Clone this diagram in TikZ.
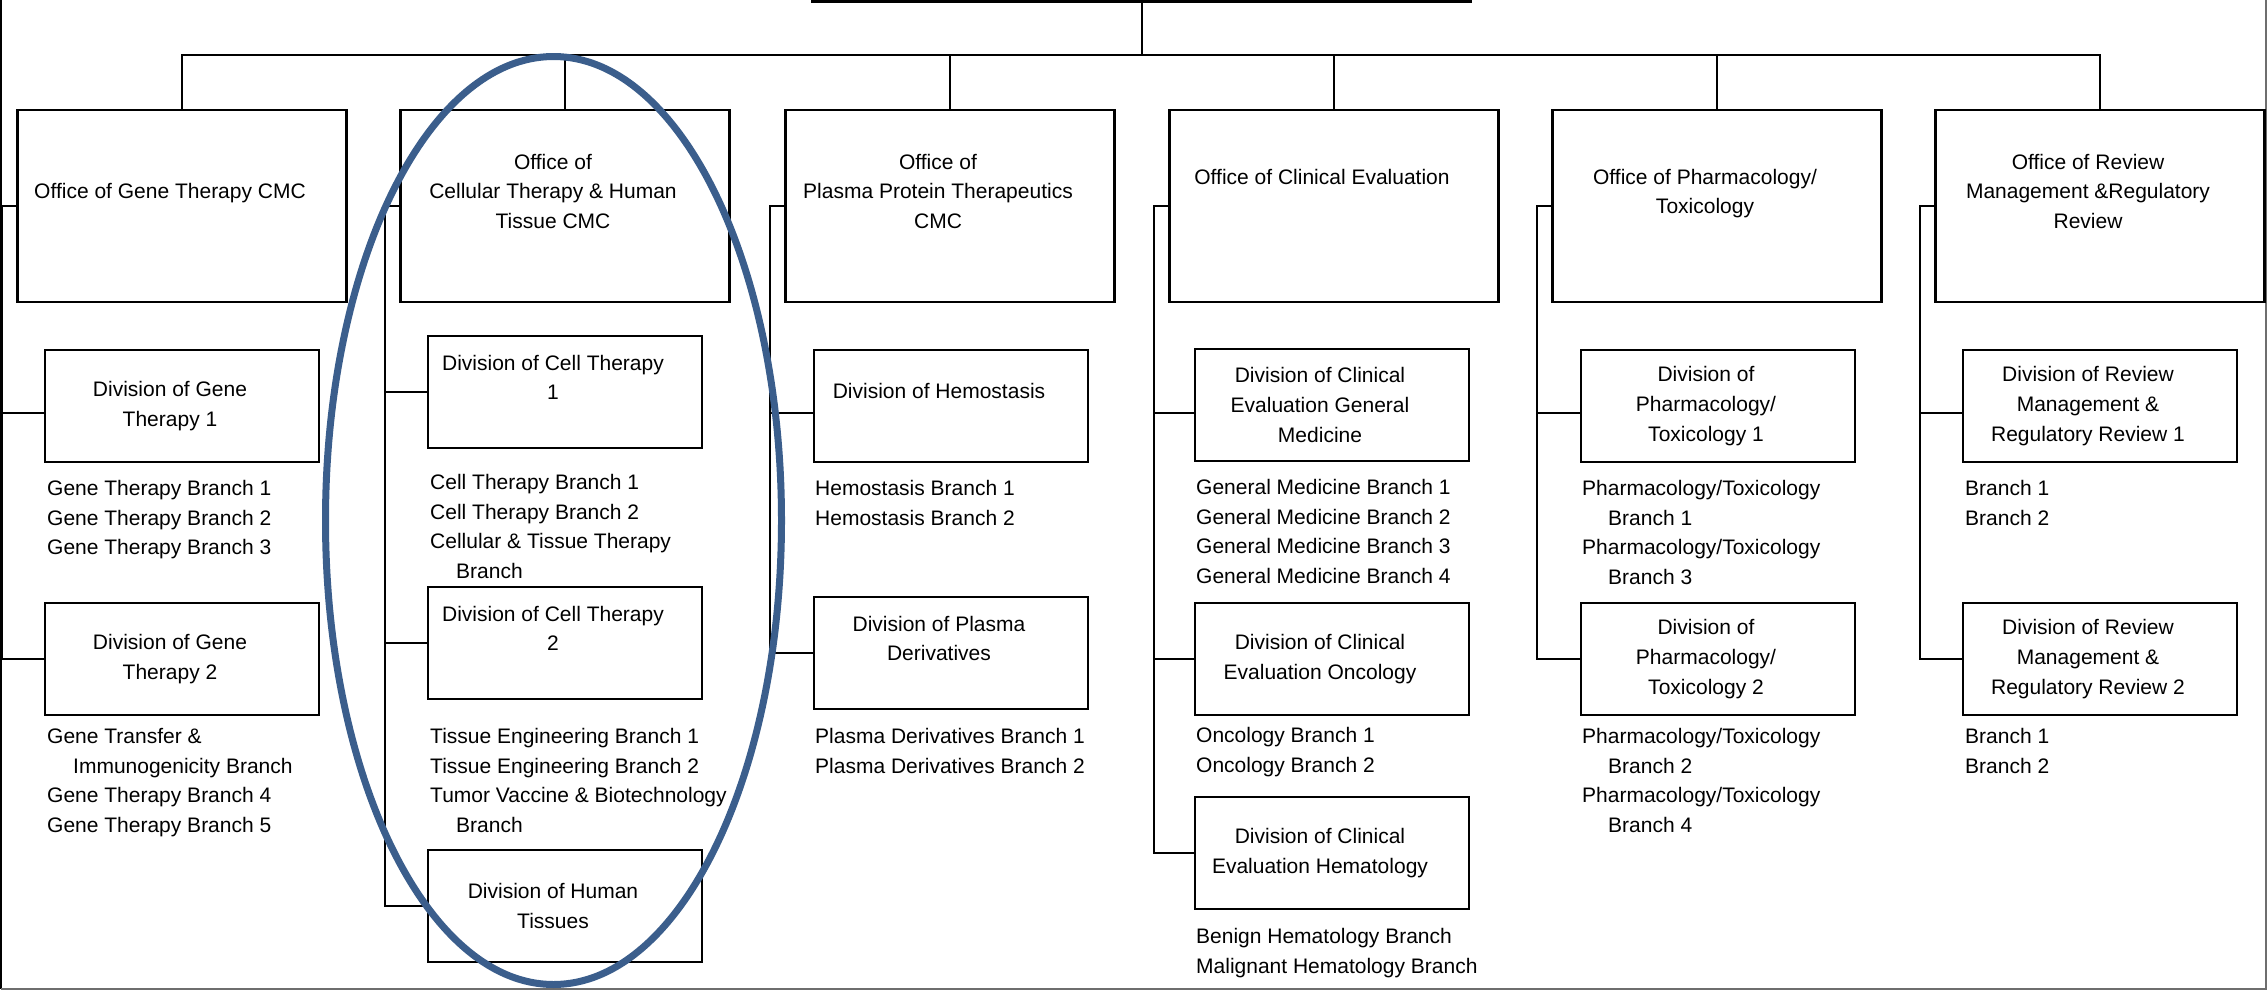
\documentclass[tikz,border=0pt]{standalone}
\usepackage{fontspec}
\setmainfont{Liberation Sans}
\usepackage{tikz}
\usepackage{xcolor}
\definecolor{ovalblue}{RGB}{59, 94, 140}
\definecolor{framegray}{RGB}{110, 110, 110}

\begin{document}
\begin{tikzpicture}[x=1pt,y=-1pt,font=\fontsize{21}{29.6}\selectfont,
    office/.style={draw,line width=2.8pt,minimum width=329pt,minimum height=192pt,inner sep=0pt},
    division/.style={draw,line width=2.8pt,minimum width=274pt,minimum height=112pt,inner sep=0pt},
    boxtext/.style={align=center,inner sep=0pt,xshift=-12pt},
    branches/.style={anchor=north west,align=left,inner sep=0pt},
    link/.style={line width=2.3pt}]
        \useasboundingbox (0,0) rectangle (2267,991);
        % frame
        \draw[line width=2.5pt](1,0)--(1,989);
        \draw[framegray,line width=2pt](1,989)--(2266,989)--(2266,0);
        % offices
        \node[office] (o1) at (182,206) {};
        \node[office] (o2) at (565,206) {};
        \node[office] (o3) at (950,206) {};
        \node[office] (o4) at (1334,206) {};
        \node[office] (o5) at (1717,206) {};
        \node[office] (o6) at (2100,206) {};
        \node[boxtext] (o1t) at (o1.center) {Office of Gene Therapy CMC\\\mbox{}};
        \node[boxtext] (o2t) at (o2.center) {Office of\\Cellular Therapy \& Human\\Tissue CMC\\\mbox{}};
        \node[boxtext] (o3t) at (o3.center) {Office of\\Plasma Protein Therapeutics\\CMC\\\mbox{}};
        \node[boxtext] (o4t) at (o4.center) {Office of Clinical Evaluation\\\mbox{}\\\mbox{}};
        \node[boxtext] (o5t) at (o5.center) {Office of Pharmacology/\\Toxicology\\\mbox{}};
        \node[boxtext] (o6t) at (o6.center) {Office of Review\\Management \&Regulatory\\Review\\\mbox{}};
        % top of the tree
        \coordinate (topl) at (811,1.5);
        \coordinate (topr) at (1472,1.5);
        \coordinate (topc) at (1142,1.5);
        \coordinate (bus) at (1142,55);
        \draw[link](topl)--(topr);
        \draw[link](topc)--(bus);
        \draw[link](o1.north)--(o1.north|-bus)--(o6.north|-bus)--(o6.north);
        \draw[link](o2.north)--(o2.north|-bus);
        \draw[link](o3.north)--(o3.north|-bus);
        \draw[link](o4.north)--(o4.north|-bus);
        \draw[link](o5.north)--(o5.north|-bus);
        % gene therapy
        \node[division] (d1a) at (182,406) {};
        \node[division] (d1b) at (182,659) {};
        \node[boxtext] (d1at) at (d1a.center) {Division of Gene\\Therapy 1};
        \node[boxtext] (d1bt) at (d1b.center) {Division of Gene\\Therapy 2};
        \node[branches] (b1a) at (47,480) {Gene Therapy Branch 1\\Gene Therapy Branch 2\\Gene Therapy Branch 3};
        \node[branches] (b1b) at (47,728) {Gene Transfer \&\\\hspace*{26pt}Immunogenicity Branch\\Gene Therapy Branch 4\\Gene Therapy Branch 5};
        \draw[link](o1.west)--++(-14,0) coordinate (c1) |- (d1b.west);
        \draw[link](c1) |- ([yshift=-7pt]d1a.west);
        % cellular therapy
        \node[division] (d2a) at (565,392) {};
        \node[division] (d2b) at (565,643) {};
        \node[division] (d2c) at (565,906) {};
        \node[boxtext] (d2at) at (d2a.center) {Division of Cell Therapy\\1\\\mbox{}};
        \node[boxtext] (d2bt) at (d2b.center) {Division of Cell Therapy\\2\\\mbox{}};
        \node[boxtext] (d2ct) at (d2c.center) {Division of Human\\Tissues};
        \node[branches] (b2a) at (430,474) {Cell Therapy Branch 1\\Cell Therapy Branch 2\\Cellular \& Tissue Therapy\\\hspace*{26pt}Branch};
        \node[branches] (b2b) at (430,728) {Tissue Engineering Branch 1\\Tissue Engineering Branch 2\\Tumor Vaccine \& Biotechnology\\\hspace*{26pt}Branch};
        \draw[link](o2.west)--++(-14,0) coordinate (c2) |- (d2c.west);
        \draw[link](c2) |- (d2a.west);
        \draw[link](c2) |- (d2b.west);
        % plasma protein
        \node[division] (d3a) at (951,406) {};
        \node[division] (d3b) at (951,653) {};
        \node[boxtext] (d3at) at (d3a.center) {Division of Hemostasis\\\mbox{}};
        \node[boxtext] (d3bt) at (d3b.center) {Division of Plasma\\Derivatives\\\mbox{}};
        \node[branches] (b3a) at (815,480) {Hemostasis Branch 1\\Hemostasis Branch 2};
        \node[branches] (b3b) at (815,728) {Plasma Derivatives Branch 1\\Plasma Derivatives Branch 2};
        \draw[link](o3.west)--++(-14,0) coordinate (c3) |- (d3b.west);
        \draw[link](c3) |- ([yshift=-7pt]d3a.west);
        % clinical evaluation
        \node[division] (d4a) at (1332,405) {};
        \node[division] (d4b) at (1332,659) {};
        \node[division] (d4c) at (1332,853) {};
        \node[boxtext] (d4at) at (d4a.center) {Division of Clinical\\Evaluation General\\Medicine};
        \node[boxtext] (d4bt) at (d4b.center) {Division of Clinical\\Evaluation Oncology};
        \node[boxtext] (d4ct) at (d4c.center) {Division of Clinical\\Evaluation Hematology};
        \node[branches] (b4a) at (1196,479) {General Medicine Branch 1\\General Medicine Branch 2\\General Medicine Branch 3\\General Medicine Branch 4};
        \node[branches] (b4b) at (1196,727) {Oncology Branch 1\\Oncology Branch 2};
        \node[branches] (b4c) at (1196,928) {Benign Hematology Branch\\Malignant Hematology Branch};
        \draw[link](o4.west)--++(-14,0) coordinate (c4) |- (d4c.west);
        \draw[link](c4) |- ([yshift=-8pt]d4a.west);
        \draw[link](c4) |- (d4b.west);
        % pharmacology
        \node[division] (d5a) at (1718,406) {};
        \node[division] (d5b) at (1718,659) {};
        \node[boxtext] (d5at) at (d5a.center) {Division of\\Pharmacology/\\Toxicology 1};
        \node[boxtext] (d5bt) at (d5b.center) {Division of\\Pharmacology/\\Toxicology 2};
        \node[branches] (b5a) at (1582,480) {Pharmacology/Toxicology\\\hspace*{26pt}Branch 1\\Pharmacology/Toxicology\\\hspace*{26pt}Branch 3};
        \node[branches] (b5b) at (1582,728) {Pharmacology/Toxicology\\\hspace*{26pt}Branch 2\\Pharmacology/Toxicology\\\hspace*{26pt}Branch 4};
        \draw[link](o5.west)--++(-14,0) coordinate (c5) |- (d5b.west);
        \draw[link](c5) |- ([yshift=-7pt]d5a.west);
        % review management
        \node[division] (d6a) at (2100,406) {};
        \node[division] (d6b) at (2100,659) {};
        \node[boxtext] (d6at) at (d6a.center) {Division of Review\\Management \&\\Regulatory Review 1};
        \node[boxtext] (d6bt) at (d6b.center) {Division of Review\\Management \&\\Regulatory Review 2};
        \node[branches] (b6a) at (1965,480) {Branch 1\\Branch 2};
        \node[branches] (b6b) at (1965,728) {Branch 1\\Branch 2};
        \draw[link](o6.west)--++(-14,0) coordinate (c6) |- (d6b.west);
        \draw[link](c6) |- ([yshift=-7pt]d6a.west);
        % highlight
        \draw[ovalblue,line width=7pt](553.5,520.5) ellipse [x radius=228pt,y radius=464pt];
      \end{tikzpicture}
\end{document}
